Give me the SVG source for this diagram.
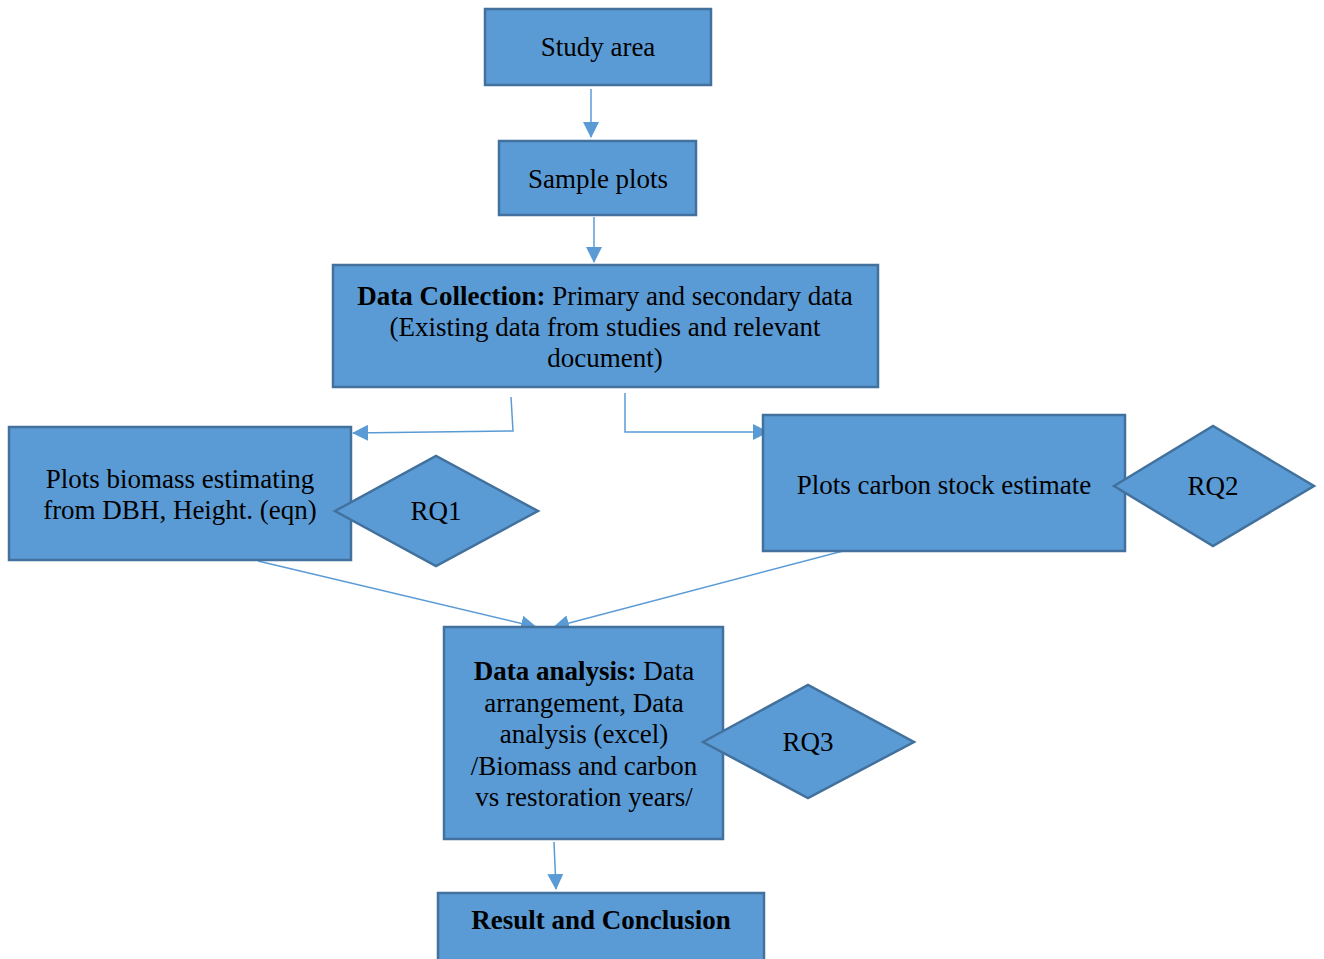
<svg xmlns="http://www.w3.org/2000/svg" width="1324" height="959" viewBox="0 0 1324 959">
<style>
.box{fill:#5B9BD5;stroke:#41719C;stroke-width:2.5}
.t{font-family:"Liberation Serif","Times New Roman",serif;font-size:27px;fill:#000;text-anchor:middle}
.b{font-weight:bold}
.c{fill:none;stroke:#5B9BD5;stroke-width:1.5}
</style>
<defs>
<marker id="ah" markerUnits="userSpaceOnUse" markerWidth="16" markerHeight="16" viewBox="0 0 16 16" refX="15" refY="8" orient="auto">
<path d="M0,0 L16,8 L0,16 Z" fill="#5B9BD5"/>
</marker>
</defs>
<rect width="1324" height="959" fill="#fff"/>
<g id="connectors">
<path class="c" d="M591,89 L591,137" marker-end="url(#ah)"/>
<path class="c" d="M594,217 L594,262" marker-end="url(#ah)"/>
<path class="c" d="M511,397 L513,431 L353,433" marker-end="url(#ah)"/>
<path class="c" d="M625,393 L625,432 L768,432" marker-end="url(#ah)"/>
<path class="c" d="M258,561 L536,627" marker-end="url(#ah)"/>
<path class="c" d="M843,551 L554,627" marker-end="url(#ah)"/>
<path class="c" d="M554,842 L556,889" marker-end="url(#ah)"/>
</g>
<g id="study-area">
<rect class="box" x="485" y="9" width="226" height="76"/>
<text class="t" x="598" y="56">Study area</text>
</g>
<g id="sample-plots">
<rect class="box" x="499" y="141" width="197" height="74"/>
<text class="t" x="598" y="188">Sample plots</text>
</g>
<g id="data-collection">
<rect class="box" x="333" y="265" width="545" height="122"/>
<text class="t" x="605" y="305"><tspan class="b">Data Collection:</tspan> Primary and secondary data</text>
<text class="t" x="605" y="336">(Existing data from studies and relevant</text>
<text class="t" x="605" y="367">document)</text>
</g>
<g id="biomass">
<rect class="box" x="9" y="427" width="342" height="133"/>
<text class="t" x="180" y="488">Plots biomass estimating</text>
<text class="t" x="180" y="519">from DBH, Height. (eqn)</text>
</g>
<g id="rq1">
<polygon class="box" points="335,511 436,456 538,511 436,566"/>
<text class="t" x="436" y="520">RQ1</text>
</g>
<g id="carbon">
<rect class="box" x="763" y="415" width="362" height="136"/>
<text class="t" x="944" y="494">Plots carbon stock estimate</text>
</g>
<g id="rq2">
<polygon class="box" points="1114,486 1213,426 1314,486 1213,546"/>
<text class="t" x="1213" y="495">RQ2</text>
</g>
<g id="data-analysis">
<rect class="box" x="444" y="627" width="279" height="212"/>
<text class="t" x="584" y="680"><tspan class="b">Data analysis:</tspan> Data</text>
<text class="t" x="584" y="712">arrangement, Data</text>
<text class="t" x="584" y="743">analysis (excel)</text>
<text class="t" x="584" y="775">/Biomass and carbon</text>
<text class="t" x="584" y="806">vs restoration years/</text>
</g>
<g id="rq3">
<polygon class="box" points="703,742 808,685 914,742 808,798"/>
<text class="t" x="808" y="751">RQ3</text>
</g>
<g id="result">
<rect class="box" x="438" y="893" width="326" height="80"/>
<text class="t b" x="601" y="929">Result and Conclusion</text>
</g>
</svg>
